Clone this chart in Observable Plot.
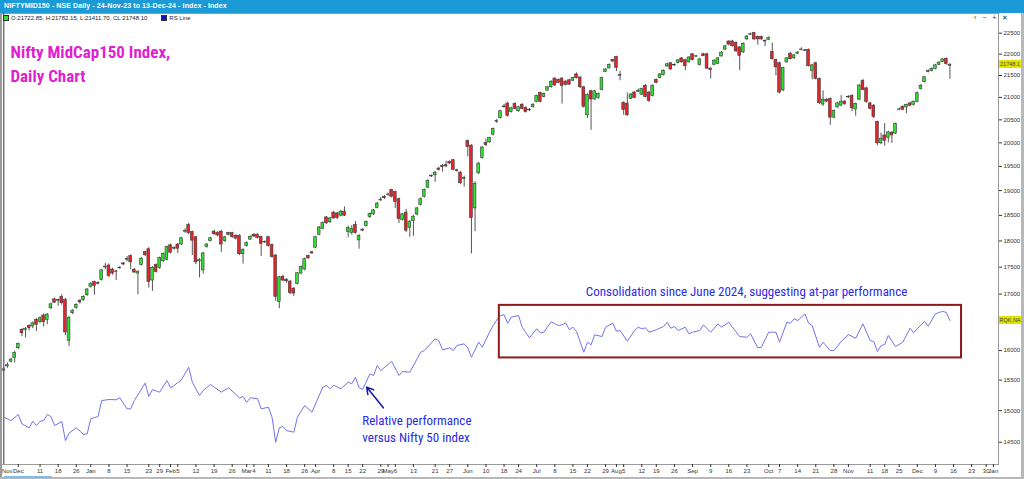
<!DOCTYPE html>
<html><head><meta charset="utf-8">
<script src="https://cdn.jsdelivr.net/npm/d3@7"></script>
<script src="https://cdn.jsdelivr.net/npm/@observablehq/plot@0.6"></script>
<style>
html,body{margin:0;padding:0;background:#fff;}
#wrap{position:relative;width:1024px;height:479px;overflow:hidden;background:#fff;font-family:"Liberation Sans",Arial,sans-serif;}
#bar{position:absolute;left:0;top:0;width:1024px;height:13px;background:#1b9ad6;}
#bar span{position:absolute;left:4px;top:2px;color:#fff;font-size:7px;font-weight:bold;white-space:nowrap;letter-spacing:0.1px;}
#chart{position:absolute;left:0;top:13px;}
#info{position:absolute;left:3px;top:15px;font-size:6px;color:#222;white-space:nowrap;line-height:7px;}
.sq{display:inline-block;width:4px;height:4px;border:1px solid #333;vertical-align:-1px;margin-right:2px;}
#icons{position:absolute;left:974px;top:14px;font-size:7px;color:#333;letter-spacing:2px;}
.tag{position:absolute;left:999px;width:22px;height:8px;background:#e3e300;color:#444;font-size:5.5px;line-height:8px;text-align:center;overflow:hidden;}
#lb{position:absolute;left:0;top:13px;width:2px;height:466px;background:#9a9a9a;}
#rb{position:absolute;left:1021px;top:13px;width:3px;height:466px;background:#b8b8b8;}
#bb{position:absolute;left:0;top:477px;width:1024px;height:2px;background:#b8b8b8;}
#sb{position:absolute;left:4px;top:476px;width:48px;height:2px;background:#7fbce6;}
</style></head>
<body><div id="wrap">
<div id="bar"><span>NIFTYMID150 - NSE Daily - 24-Nov-23 to 13-Dec-24 - Index - Index</span></div>
<div id="chart"></div>
<div id="info"><span class="sq" style="background:#2fe02f"></span>O:21722.85, H:21782.15, L:21411.70, CL:21748.10<span style="display:inline-block;width:14px"></span><span class="sq" style="background:#1010d0"></span>RS Line</div>
<div id="icons">‹ − + ✕</div>
<div id="lb"></div><div id="rb"></div><div id="bb"></div><div id="sb"></div>
</div>
<script>
// ---- data ----
const openP = [15660,15730,15810,15870,16040,16360,16360,16430,16420,16535,16500,16615,16535,16745,16905,16880,16950,16890,16170,16655,16750,16880,16890,16980,17130,17220,17190,17260,17510,17530,17455,17410,17480,17570,17640,17710,17450,17380,17540,17785,17840,17250,17540,17485,17610,17640,17915,17850,17930,17930,18180,18310,18170,18070,17610,17440,17880,18000,18180,18160,18180,17995,18150,18150,18100,18100,17745,17900,18025,18120,18120,18075,17970,18070,17920,17720,16855,17320,17265,17230,17100,17190,17380,17455,17710,17780,17870,18120,18235,18460,18365,18555,18540,18495,18575,18175,18150,18310,18010,18220,18290,18465,18520,18650,18800,18875,18910,19010,18970,18825,18410,18555,18255,18390,18520,18710,18875,19060,19290,19315,19455,19510,19525,19595,19630,19420,19370,19240,20040,19940,18640,19355,19680,20000,20010,20175,20460,20540,20780,20860,20670,20850,20690,20835,20765,20710,20780,20900,21100,21005,21155,21230,21430,21400,21430,21360,21390,21380,21525,21455,21230,20600,21140,20955,20985,21170,21585,21665,21860,21930,21510,20880,20860,20970,21110,21130,21060,21265,21110,21030,21400,21440,21510,21710,21785,21735,21790,21900,21855,21805,21995,21940,21745,21995,21995,21660,21750,21770,21945,22105,22300,22300,22265,22160,22040,22350,22465,22500,22410,22410,22310,22340,22050,21860,21785,21160,21805,22010,21900,22010,22100,22090,22100,21610,21785,21420,20840,20950,20960,20550,20775,20815,20905,21000,21035,20730,20950,21370,21205,20865,20815,20450,19990,20160,20110,20220,20200,20720,20790,20775,20865,20835,20900,21190,21350,21600,21605,21650,21750,21815,21890,21722.85];
const highP = [15705,15790,15870,15990,16130,16380,16400,16450,16500,16560,16590,16640,16650,16835,16925,16910,16990,16920,16600,16720,16825,16900,16970,17100,17210,17240,17230,17460,17570,17560,17480,17440,17510,17590,17700,17730,17480,17430,17680,17800,17870,17510,17560,17690,17770,17900,17940,17890,17950,18070,18235,18340,18190,18090,17660,17780,17950,18070,18210,18180,18200,18090,18170,18170,18120,18120,17850,17980,18100,18140,18140,18090,18000,18090,17940,17740,17330,17350,17290,17250,17120,17400,17520,17670,17730,17800,18090,18280,18370,18480,18460,18580,18560,18600,18670,18290,18300,18380,18120,18240,18390,18550,18620,18760,18860,18900,18950,19030,18990,18850,18540,18620,18400,18500,18660,18850,19030,19220,19320,19390,19480,19540,19610,19620,19650,19440,19390,19300,20060,19960,19180,19580,19920,20080,20120,20320,20510,20710,20840,20890,20780,20880,20800,20860,20790,20750,20860,21050,21120,21100,21250,21380,21450,21420,21450,21380,21410,21460,21560,21470,21250,21080,21160,21160,21100,21460,21660,21770,21880,21950,21600,20900,21100,21090,21130,21190,21210,21290,21130,21290,21420,21540,21630,21790,21800,21770,21870,21920,21880,21940,22010,21970,21900,22020,22020,21680,21870,21920,22060,22210,22320,22330,22290,22180,22270,22440,22500,22520,22430,22430,22340,22410,22260,21880,21810,21690,21920,22040,21990,22060,22150,22110,22120,21760,21810,21440,21150,20970,20990,20720,20890,21040,20930,21040,21060,20870,21290,21410,21230,20890,20840,20470,20210,20420,20250,20240,20430,20760,20810,20850,20890,20920,21120,21290,21480,21630,21680,21760,21820,21900,21910,21782.15];
const lowP = [15645,15700,15790,15790,16020,16240,16220,16340,16380,16330,16470,16410,16450,16720,16830,16780,16800,16260,16070,16630,16730,16820,16870,16960,17110,16980,17170,17240,17450,17300,17350,17250,17460,17530,17600,17450,17380,16990,17520,17700,17110,17050,17390,17460,17590,17620,17750,17820,17760,17910,18150,18120,17720,17550,17300,17370,17860,17980,18110,18080,17780,17970,18100,18050,18020,17720,17560,17880,18010,18070,18040,17700,17950,17880,17670,16870,16735,17230,17200,16990,16960,17170,17360,17430,17650,17740,17850,18100,18220,18320,18340,18420,18420,18470,18480,18060,18110,18130,17840,18180,18270,18440,18500,18630,18780,18820,18880,18850,18640,18340,18390,18160,18070,18090,18490,18690,18850,19040,19270,19170,19400,19380,19470,19540,19410,19380,19130,19070,19700,17750,18180,19330,19650,19920,19990,20150,20420,20520,20760,20560,20650,20720,20670,20720,20650,20680,20760,20880,20880,20990,21140,21210,21250,21310,20850,21260,21270,21360,21420,21200,20760,20530,20270,20930,20960,21150,21570,21650,21800,21590,21380,20600,20580,20950,20970,21110,21040,20990,20890,21010,21310,21420,21490,21690,21620,21710,21770,21790,21610,21790,21840,21920,21720,21940,21640,21420,21730,21750,21930,22090,22200,22170,22040,21610,22020,22330,22440,22330,22210,22330,22180,22320,21860,21490,21080,21130,21790,21860,21880,21990,22080,22060,21700,21400,21400,20840,20800,20880,20380,20520,20760,20800,20820,20980,20680,20580,20930,21150,20870,20720,20530,19940,19960,19930,20000,19990,20180,20700,20700,20640,20790,20810,20880,21170,21330,21560,21580,21630,21730,21800,21740,21411.7];
const closeP = [15680,15750,15845,15960,16110,16300,16380,16390,16475,16450,16565,16495,16630,16815,16845,16895,16835,16315,16570,16700,16805,16850,16950,17085,17190,17150,17205,17440,17495,17335,17380,17420,17490,17550,17655,17590,17400,17415,17660,17725,17220,17485,17410,17670,17750,17880,17775,17860,17850,18050,18195,18150,18005,17590,17630,17760,17930,18050,18130,18105,17930,18070,18120,18075,18045,17745,17825,17960,18080,18085,18060,17945,17980,17905,17690,16950,17310,17250,17235,17020,17010,17385,17500,17650,17665,17760,18070,18260,18350,18345,18440,18440,18450,18575,18495,18250,18230,18155,18095,18200,18370,18525,18600,18735,18815,18845,18920,18875,18770,18430,18520,18200,18375,18475,18640,18825,19010,19200,19305,19370,19430,19490,19500,19560,19430,19405,19150,19260,19910,18450,19140,19560,19900,19950,20100,20300,20475,20690,20795,20590,20755,20740,20780,20740,20670,20725,20835,21030,20900,21080,21230,21355,21270,21330,21255,21285,21290,21440,21440,21230,20790,21060,20955,21140,21080,21440,21640,21745,21825,21680,21495,20720,20600,21065,20990,21145,21190,21010,20915,21265,21330,21525,21610,21760,21640,21745,21855,21805,21715,21920,21860,21950,21875,21955,21660,21625,21845,21900,22035,22185,22225,22185,22065,21960,22245,22420,22475,22350,22350,22350,22300,22390,21880,21690,21110,21670,21900,21880,21970,22035,22110,22080,21715,21735,21420,20870,20950,20905,20550,20700,20865,20905,20850,21015,20755,20850,21270,21170,20900,20745,20560,19990,20080,20045,20225,20160,20410,20730,20725,20830,20815,20900,21095,21265,21460,21585,21655,21735,21800,21875,21765,21748.1];

// RS line (read on the same axis), keyed by trading-day number
const rsDay = [0,2,4,5,7,8,9,10,11,12,13,14,16,17,18,20,22,23,24,26,27,29,31,32,34,35,36,39,40,41,43,45,46,47,49,51,52,54,55,57,58,60,62,65,66,67,68,70,71,73,74,75,76,77,78,80,81,83,85,88,89,90,91,93,95,96,97,98,99,101,102,103,104,107,109,110,112,115,116,119,120,121,123,124,125,127,128,129,131,132,134,135,136,137,138,139,140,142,143,145,147,148,149,151,153,154,155,156,157,158,160,161,162,163,165,166,168,169,170,172,174,175,176,177,178,180,182,183,184,185,186,188,189,190,192,193,195,197,198,200,201,203,205,206,208,209,211,213,214,216,217,218,219,221,222,223,225,226,228,229,231,233,235,237,239,240,241,242,243,244,246,248,250,251,252,254,255,257,259,260,261];
const rsValue = [14895,14841,14938,14789,14726,14830,14762,14830,14841,14938,14906,14762,14825,14526,14641,14726,14621,14632,14870,14906,15163,15181,15176,15209,15029,15029,15163,15450,15230,15342,15301,15493,15374,15412,15505,15716,15466,15246,15327,15428,15384,15301,15374,15209,15230,15136,15209,15193,15029,15055,14895,14500,14726,14746,14683,14657,14895,15082,14975,15384,15412,15358,15412,15358,15466,15440,15549,15374,15347,15605,15577,15745,15660,15817,15577,15644,15632,15971,16000,16204,16173,16012,16047,16000,16087,16116,16047,15886,16144,16057,16319,16436,16538,16614,16627,16477,16584,16614,16407,16221,16379,16308,16319,16501,16436,16449,16484,16362,16407,16331,15971,16144,16099,16273,16243,16407,16477,16336,16348,16161,16348,16407,16379,16396,16319,16362,16419,16494,16389,16419,16348,16407,16291,16319,16348,16449,16319,16466,16407,16494,16407,16243,16231,16291,16047,16057,16319,16319,16144,16494,16477,16556,16524,16644,16477,16436,16057,16144,16000,16000,16156,16278,16214,16466,16173,16156,15983,16087,16104,16261,16069,16144,16389,16308,16379,16512,16424,16644,16690,16667,16524];

// y tick labels (16500 is hidden behind the RS value tag in the reference)
const yTicks = [14500,15000,15500,16000,17000,17500,18000,18500,19000,19500,20000,20500,21000,21500,22000,22500];
const tickLabels = ["Nov","Dec","11","18","26","Jan","8","15","23","29","Feb","5","12","19","26","Mar","4","11","18","26","Apr","8","15","22","29","May","6","13","21","27","Jun","10","18","24","Jul","8","15","22","29","Aug","5","12","19","26","Sep","9","16","23","Oct","7","14","21","28","Nov","11","18","25","Dec","9","16","23","30","Jan"];
const tickDates = ["2023-11-24","2023-12-01","2023-12-11","2023-12-18","2023-12-26","2024-01-01","2024-01-08","2024-01-15","2024-01-23","2024-01-29","2024-02-01","2024-02-05","2024-02-12","2024-02-19","2024-02-26","2024-03-01","2024-03-04","2024-03-11","2024-03-18","2024-03-26","2024-04-01","2024-04-08","2024-04-15","2024-04-22","2024-04-29","2024-05-02","2024-05-06","2024-05-13","2024-05-21","2024-05-27","2024-06-03","2024-06-10","2024-06-18","2024-06-24","2024-07-01","2024-07-08","2024-07-15","2024-07-22","2024-07-29","2024-08-01","2024-08-05","2024-08-12","2024-08-19","2024-08-26","2024-09-02","2024-09-09","2024-09-16","2024-09-23","2024-10-01","2024-10-07","2024-10-14","2024-10-21","2024-10-28","2024-11-01","2024-11-11","2024-11-18","2024-11-25","2024-12-02","2024-12-09","2024-12-16","2024-12-23","2024-12-30","2025-01-01"];
const holidays = ["2023-11-27","2023-12-25","2024-01-22","2024-01-26","2024-03-08","2024-03-25","2024-03-29","2024-04-11","2024-04-17","2024-05-01","2024-05-20","2024-06-17","2024-07-17","2024-08-15","2024-10-02","2024-11-15","2024-11-20","2024-12-25"];
const specialSessions = ["2024-01-20","2024-03-02","2024-05-18"];

// annotations
const boxDays = [136.7, 264.2];
const boxValues = [15874, 16796];
const noteText = ["Consolidation since June 2024, suggesting at-par performance","Relative performance","versus Nifty 50 index"];
const noteDay = [204.9, 98.9, 98.9];
const noteValue = [17037, 14841, 14575];
const arrowDays = [104.7, 100.1];
const arrowValues = [15046, 15384];
const titleLines = ["Nifty MidCap150 Index,", "Daily Chart"];

// ---- trading-day calendar ----
const hol = new Set(holidays), spec = new Set(specialSessions);
const days = [];
for (let t = Date.UTC(2023,10,24); t <= Date.UTC(2025,0,3); t += 86400000) {
  const dt = new Date(t), s = dt.toISOString().slice(0,10), wd = dt.getUTCDay();
  if ((wd > 0 && wd < 6 && !hol.has(s)) || spec.has(s)) days.push(s);
}
const dayIndex = new Map(days.map((d,i)=>[d,i]));
const tickIdx = tickDates.map(d => dayIndex.get(d));
const tickMap = new Map(tickIdx.map((d,i)=>[d, tickLabels[i]]));
// the first label sits at the left edge: drawn left-aligned by its own text mark
const edgeTicks = [{d: tickIdx[0], t: tickLabels[0]}];
const axisTicks = tickIdx.slice(1);

const candles = openP.map((o,i)=>({i, o, h: highP[i], l: lowP[i], c: closeP[i]}));
const up = candles.filter(d => d.c >= d.o), down = candles.filter(d => d.c < d.o);
const rs = rsDay.map((d,i)=>({d, v: rsValue[i]}));
const notes = noteText.map((t,i)=>({t, d: noteDay[i], v: noteValue[i]}));
const narrow = "'Liberation Sans Narrow','Arial Narrow','Roboto Condensed','DejaVu Sans Condensed',sans-serif";
const bw = 0.38;

const chart = Plot.plot({
  width: 1024, height: 466,
  marginLeft: 0, marginRight: 26, marginTop: 0, marginBottom: 15,
  x: {domain: [-0.91, 274.4]},
  y: {type: "log", domain: [14157, 22981]},
  style: {fontFamily: "'Liberation Sans',Arial,sans-serif", fontSize: "6px", color: "#333", background: "transparent", overflow: "visible"},
  marks: [
    Plot.frame({stroke: "#9a9a9a"}),
    Plot.axisX({ticks: axisTicks, tickFormat: d => tickMap.get(d), tickSize: 3, tickPadding: 1, label: null, fontSize: 6}),
    Plot.tickX(edgeTicks, {x: "d", frameAnchor: "bottom", y: null}),
    Plot.text(edgeTicks, {x: "d", text: "t", frameAnchor: "bottom", dy: 8, dx: -2, textAnchor: "start", fontSize: 6, fill: "#333"}),
    Plot.axisY({anchor: "right", ticks: yTicks, tickFormat: d => String(d), tickSize: 3, tickPadding: 2, label: null, fontSize: 6}),
    Plot.line(rs, {x: "d", y: "v", stroke: "#7373ee", strokeWidth: 1}),
    Plot.ruleX(candles, {x: "i", y1: "l", y2: "h", stroke: "#555", strokeWidth: 1}),
    Plot.rect(up, {x1: d => d.i - bw, x2: d => d.i + bw, y1: "o", y2: "c", fill: "#2fe02f", stroke: "#3a3a3a", strokeWidth: 0.6}),
    Plot.rect(down, {x1: d => d.i - bw, x2: d => d.i + bw, y1: "o", y2: "c", fill: "#e4232b", stroke: "#3a3a3a", strokeWidth: 0.6}),
    Plot.rect([0], {x1: () => boxDays[0], x2: () => boxDays[1], y1: () => boxValues[0], y2: () => boxValues[1], fill: "none", stroke: "#8b1c1c", strokeWidth: 2}),
    Plot.arrow([0], {x1: () => arrowDays[0], y1: () => arrowValues[0], x2: () => arrowDays[1], y2: () => arrowValues[1], stroke: "#1c1ca6", strokeWidth: 1.6, headLength: 7}),
    Plot.text(notes.slice(0,1), {x: "d", y: "v", text: "t", fill: "#2a2ae8", fontSize: 13, fontFamily: narrow, textAnchor: "middle"}),
    Plot.text(notes.slice(1), {x: "d", y: "v", text: "t", fill: "#2a2ae8", fontSize: 13, fontFamily: narrow, textAnchor: "start"}),
    Plot.text(titleLines.slice(0,1), {frameAnchor: "top-left", dx: 10, dy: 32, fill: "#e01fd0", fontSize: 17, fontWeight: "bold", fontFamily: narrow, textAnchor: "start"}),
    Plot.text(titleLines.slice(1), {frameAnchor: "top-left", dx: 10, dy: 56, fill: "#e01fd0", fontSize: 17, fontWeight: "bold", fontFamily: narrow, textAnchor: "start"})
  ]
});
document.getElementById("chart").append(chart);

const ys = chart.scale("y");
const wrap = document.getElementById("wrap");
function tag(value, text) {
  const div = document.createElement("div");
  div.className = "tag";
  div.style.top = (13 + ys.apply(value) - 4) + "px";
  div.textContent = text;
  wrap.append(div);
}
tag(closeP[closeP.length-1], "21748.1");
tag(rsValue[rsValue.length-1], "RQK,NA");
</script>
</body></html>
